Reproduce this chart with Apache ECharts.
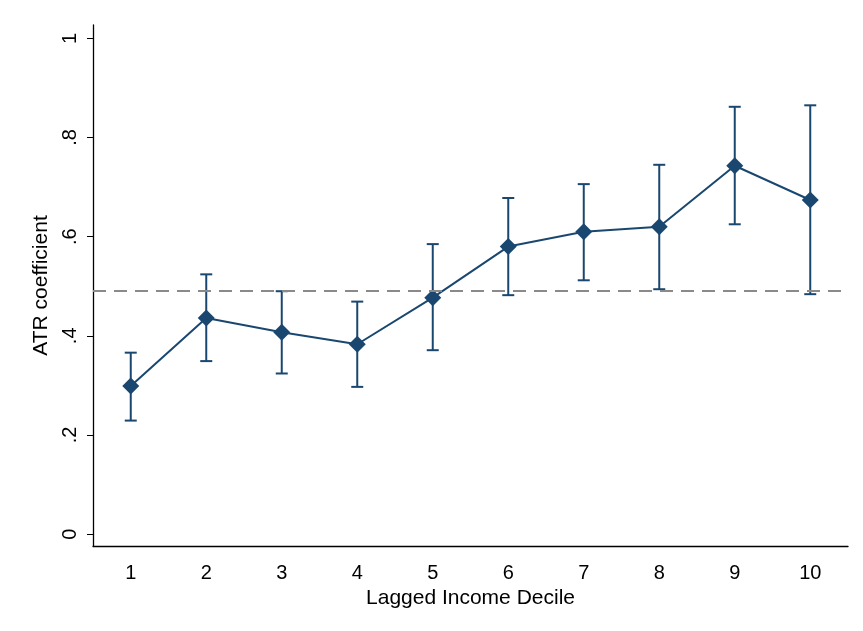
<!DOCTYPE html>
<html>
<head>
<meta charset="utf-8">
<script src="https://cdn.jsdelivr.net/npm/echarts@6/dist/echarts.min.js"></script>
<style>
html,body{margin:0;padding:0;background:#fff;}
#chart{width:863px;height:631px;}
</style>
</head>
<body>
<div id="chart"></div>
<script>
const categories = ['1','2','3','4','5','6','7','8','9','10'];
const coef  = [0.299, 0.436, 0.407, 0.383, 0.477, 0.580, 0.610, 0.620, 0.743, 0.674];
const upper = [0.366, 0.524, 0.490, 0.469, 0.585, 0.678, 0.706, 0.745, 0.862, 0.865];
const lower = [0.229, 0.349, 0.324, 0.297, 0.371, 0.482, 0.512, 0.494, 0.625, 0.484];
const refLine = 0.494;
const yTicks = [0, 0.2, 0.4, 0.6, 0.8, 1];
const yTickLabels = ['0', '.2', '.4', '.6', '.8', '1'];

const navy = '#1a476f';
const font = '"Liberation Sans", Arial, sans-serif';

const errData = categories.map((c, i) => [i, lower[i], upper[i]]);

const chart = echarts.init(document.getElementById('chart'), null, {renderer: 'canvas'});
chart.setOption({
  backgroundColor: '#fff',
  animation: false,
  grid: {left: 93, right: 15, top: 25, bottom: 85, containLabel: false},
  xAxis: {
    type: 'category',
    data: categories,
    boundaryGap: true,
    name: 'Lagged Income Decile',
    nameLocation: 'middle',
    nameGap: 40,
    nameTextStyle: {fontFamily: font, fontSize: 21, color: '#000'},
    axisLine: {onZero: false, lineStyle: {color: '#000', width: 1.3}},
    axisTick: {alignWithLabel: true, length: 6, lineStyle: {color: '#000', width: 1}},
    axisLabel: {fontFamily: font, fontSize: 20, color: '#000', margin: 17},
    splitLine: {show: false}
  },
  yAxis: {
    type: 'value',
    min: -0.024,
    max: 1.027,
    name: 'ATR coefficient',
    nameLocation: 'middle',
    nameGap: 37,
    nameTextStyle: {fontFamily: font, fontSize: 21, color: '#000'},
    axisLine: {show: true, onZero: false, lineStyle: {color: '#000', width: 1.3}},
    axisTick: {show: true, length: 6, customValues: yTicks, lineStyle: {color: '#000', width: 1}},
    axisLabel: {
      fontFamily: font, fontSize: 20, color: '#000', rotate: 90, margin: 13,
      customValues: yTicks,
      formatter: v => {
        const i = yTicks.findIndex(t => Math.abs(t - v) < 1e-6);
        return i >= 0 ? yTickLabels[i] : '';
      }
    },
    splitLine: {show: false}
  },
  series: [
    {
      type: 'line',
      data: [],
      markLine: {
        silent: true,
        symbol: ['none', 'none'],
        label: {show: false},
        lineStyle: {color: '#8a8a8a', width: 1.8, type: [13, 8]},
        data: [{yAxis: refLine}]
      }
    },
    {
      type: 'custom',
      data: errData,
      z: 3,
      renderItem: function (params, api) {
        const x = api.value(0);
        const lo = api.coord([x, api.value(1)]);
        const hi = api.coord([x, api.value(2)]);
        const hw = 6;
        const style = {stroke: navy, lineWidth: 2};
        return {
          type: 'group',
          children: [
            {type: 'line', shape: {x1: lo[0], y1: lo[1], x2: hi[0], y2: hi[1]}, style: style},
            {type: 'line', shape: {x1: lo[0] - hw, y1: lo[1], x2: lo[0] + hw, y2: lo[1]}, style: style},
            {type: 'line', shape: {x1: hi[0] - hw, y1: hi[1], x2: hi[0] + hw, y2: hi[1]}, style: style}
          ]
        };
      }
    },
    {
      type: 'line',
      data: coef,
      z: 4,
      symbol: 'diamond',
      symbolSize: 17,
      itemStyle: {color: navy},
      lineStyle: {color: navy, width: 2}
    }
  ]
});
</script>
</body>
</html>
